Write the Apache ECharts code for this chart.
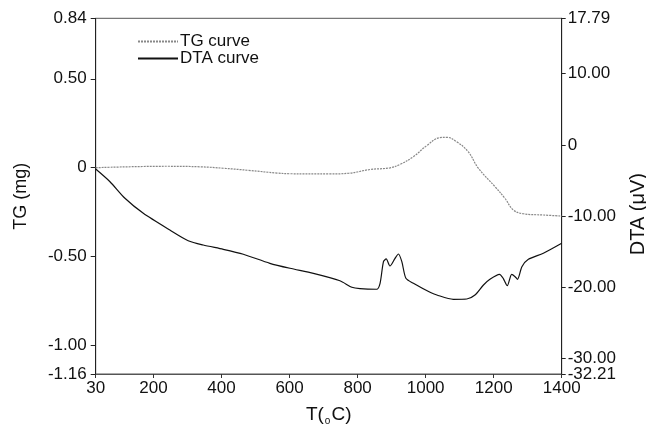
<!DOCTYPE html>
<html>
<head>
<meta charset="utf-8">
<script src="https://cdn.jsdelivr.net/npm/echarts@6/dist/echarts.min.js"></script>
<style>html,body{margin:0;padding:0;background:#fff;}#c{width:646px;height:425px;}</style>
</head>
<body>
<div id="c"></div>
<script>
// TG curve (temperature, mg)
const tgT = [30, 237, 337, 405, 480, 563, 601, 719, 775, 837, 895, 925, 964, 1003, 1042, 1062, 1091, 1125, 1155, 1204, 1233, 1258, 1287, 1346, 1400];
const tgV = [0, 0.008, 0.005, -0.003, -0.015, -0.03, -0.034, -0.035, -0.031, -0.01, -0.001, 0.019, 0.062, 0.124, 0.169, 0.171, 0.146, 0.09, -0.003, -0.107, -0.172, -0.238, -0.259, -0.266, -0.272];
// DTA curve (temperature, µV)
const dtaT = [30, 72, 116, 170, 248, 302, 346, 405, 464, 542, 601, 670, 748, 783, 807, 856, 866, 876, 884, 895, 910, 920, 930, 942, 964, 1013, 1033, 1081, 1121, 1145, 1170, 1189, 1217, 1228, 1240, 1253, 1263, 1270, 1283, 1302, 1346, 1400];
const dtaV = [-3.4, -5.18, -7.51, -9.62, -11.97, -13.47, -14.08, -14.68, -15.38, -16.65, -17.35, -18.06, -19.1, -20.02, -20.22, -20.3, -19.46, -16.42, -16.04, -17.03, -15.95, -15.34, -16.42, -18.76, -19.46, -20.73, -21.11, -21.71, -21.67, -21.11, -19.7, -18.9, -18.2, -18.76, -19.8, -18.2, -18.53, -18.9, -17.13, -16.09, -15.24, -13.84];
// tick values
const xTicks = [30, 200, 400, 600, 800, 1000, 1200, 1400];
const tgTicks = [-1.16, -1.0, -0.5, 0, 0.5, 0.84];
const dtaTicks = [-30, -20, -10, 0, 10, 17.79];
const dtaMinTick = [-32.21];

const fmt = v => (Math.abs(v) < 1e-9 ? '0' : v.toFixed(2));
const font = 'Liberation Sans, Arial, sans-serif';
const dtaLabel = { formatter: fmt, fontSize: 17, color: '#111', margin: 6, fontFamily: font, hideOverlap: false, showMinLabel: true, showMaxLabel: true };
const chart = echarts.init(document.getElementById('c'));
chart.setOption({
  backgroundColor: '#fff',
  animation: false,
  textStyle: { fontFamily: font, color: '#111' },
  grid: { left: 95.7, right: 84.3, top: 18.3, bottom: 51, show: true, borderColor: '#555', borderWidth: 1, containLabel: false, outerBoundsMode: 'none' },
  legend: {
    orient: 'vertical', left: 132, top: 28, itemWidth: 40, itemHeight: 10, itemGap: 0,
    itemStyle: { opacity: 0 },
    textStyle: { fontSize: 17, color: '#111', fontFamily: font, lineHeight: 16, padding: [0, 0, 0, -3] },
    data: ['TG curve', 'DTA curve']
  },
  xAxis: {
    type: 'value', min: 30, max: 1400,
    name: '{a|T(}{s|o}{a|C)}', nameLocation: 'middle', nameGap: 30,
    nameTextStyle: { rich: { a: { fontSize: 19, fontFamily: font, color: '#111', lineHeight: 22 }, s: { fontSize: 10, fontFamily: font, color: '#111', lineHeight: 22, verticalAlign: 'bottom', padding: [0, 1, 0, 1] } } },
    axisLine: { onZero: false, lineStyle: { color: '#555', width: 1 } },
    axisTick: { show: true, length: 4, inside: false, customValues: xTicks, lineStyle: { color: '#333' } },
    axisLabel: { customValues: xTicks, formatter: v => String(v), fontSize: 17, color: '#111', margin: 6, fontFamily: font, hideOverlap: false, showMinLabel: true, showMaxLabel: true },
    splitLine: { show: false }
  },
  yAxis: [
    {
      type: 'value', min: -1.16, max: 0.84, position: 'left',
      name: 'TG (mg)', nameLocation: 'middle', nameGap: 66,
      nameTextStyle: { fontSize: 18, color: '#111', fontFamily: font },
      axisLine: { show: true, onZero: false, lineStyle: { color: '#222', width: 1 } },
      axisTick: { show: true, length: 5, customValues: tgTicks, lineStyle: { color: '#222' } },
      axisLabel: { customValues: tgTicks, formatter: fmt, fontSize: 17, color: '#111', margin: 9, fontFamily: font, hideOverlap: false, showMinLabel: true, showMaxLabel: true },
      splitLine: { show: false }
    },
    {
      type: 'value', min: -32.21, max: 17.79, position: 'right',
      name: 'DTA (\u03bcV)', nameLocation: 'middle', nameGap: 67,
      nameTextStyle: { fontSize: 20, color: '#111', fontFamily: font, padding: [0, 36, 0, 0] },
      axisLine: { show: true, onZero: false, lineStyle: { color: '#222', width: 1 } },
      axisTick: { show: true, length: 4, customValues: dtaTicks, lineStyle: { color: '#222' } },
      axisLabel: Object.assign({ customValues: dtaTicks }, dtaLabel),
      splitLine: { show: false }
    },
    {
      type: 'value', min: -32.21, max: 17.79, position: 'right', offset: 0,
      axisLine: { show: false, onZero: false },
      axisTick: { show: true, length: 4, customValues: dtaMinTick, lineStyle: { color: '#222' } },
      axisLabel: Object.assign({ customValues: dtaMinTick }, dtaLabel),
      splitLine: { show: false }
    }
  ],
  series: [
    {
      name: 'TG curve', type: 'line', yAxisIndex: 0, symbol: 'none', smooth: 0.4,
      lineStyle: { color: '#888', width: 1.2, type: [2, 1] }, itemStyle: { color: '#888' },
      data: tgT.map((t, i) => [t, tgV[i]])
    },
    {
      name: 'DTA curve', type: 'line', yAxisIndex: 1, symbol: 'none', smooth: 0.25,
      lineStyle: { color: '#111', width: 1.2 }, itemStyle: { color: '#111' },
      data: dtaT.map((t, i) => [t, dtaV[i]])
    }
  ]
});
</script>
</body>
</html>
